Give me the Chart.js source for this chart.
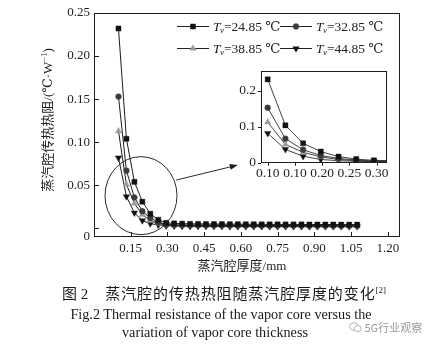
<!DOCTYPE html>
<html>
<head>
<meta charset="utf-8">
<script src="https://cdn.jsdelivr.net/npm/chart.js@4.4.1/dist/chart.umd.min.js"></script>
<style>
  html, body { margin: 0; padding: 0; background: #fff; }
  #wrap { position: relative; width: 446px; height: 346px; overflow: hidden; background: #fff; }
  #main { position: absolute; left: 0; top: 0; }
  #inset { position: absolute; left: 226px; top: 58px; }
  .line { position: absolute; white-space: nowrap; color: #1a1a1a; }
  .serif { font-family: 'Liberation Serif', 'Noto Sans CJK SC', serif; }
  .cjk { font-family: 'Noto Sans CJK SC', sans-serif; }
</style>
</head>
<body>
<div id="wrap">
  <canvas id="main" width="446" height="346"></canvas>
  <canvas id="inset" width="172" height="128"></canvas>

  <div class="line" style="left:62px; top:284px; font-size:15px; line-height:18px;">
    <span class="cjk">图</span><span class="serif">&nbsp;2</span><span class="cjk" style="margin-left:17px; letter-spacing:0.9px;">蒸汽腔的传热热阻随蒸汽腔厚度的变化</span><sup class="serif" style="font-size:9px; vertical-align:6px; line-height:0;">[2]</sup>
  </div>
  <div class="line serif" style="left:0; width:442px; text-align:center; top:306px; font-size:14.2px; line-height:16px;">Fig.2 Thermal resistance of the vapor core versus the</div>
  <div class="line serif" style="left:0; width:430px; text-align:center; top:324px; font-size:14.2px; line-height:16px;">variation of vapor core thickness</div>

  <div class="line cjk" style="left:349px; top:320px; font-size:11px; line-height:14px; color:#9a9a9a;">
    <svg width="13" height="11" viewBox="0 0 13 11" style="vertical-align:-1px;">
      <ellipse cx="5" cy="4.5" rx="4.2" ry="3.6" fill="none" stroke="#a8a8a8" stroke-width="0.9"/>
      <ellipse cx="8.6" cy="6.6" rx="3.6" ry="3" fill="#fff" stroke="#a8a8a8" stroke-width="0.9"/>
    </svg>&nbsp;5G行业观察
  </div>
</div>

<script>
// Vapor core thickness (mm)
const thickness = [0.1000, 0.1325, 0.1650, 0.1975, 0.2300, 0.2625, 0.2950, 0.3275, 0.3600, 0.3925,
                   0.4250, 0.4575, 0.4900, 0.5225, 0.5550, 0.5875, 0.6200, 0.6525, 0.6850, 0.7175,
                   0.7500, 0.7825, 0.8150, 0.8475, 0.8800, 0.9125, 0.9450, 0.9775, 1.0100, 1.0425, 1.0750];

// Thermal resistance of the vapor core (°C/W) at each vapor temperature
const r2485 = [0.232, 0.104, 0.054, 0.031, 0.017, 0.010, 0.0065, 0.0058, 0.0055, 0.0053,
               0.0052, 0.0051, 0.0050, 0.0050, 0.0049, 0.0049, 0.0048, 0.0048, 0.0047, 0.0047,
               0.0047, 0.0046, 0.0046, 0.0046, 0.0045, 0.0045, 0.0045, 0.0045, 0.0044, 0.0044, 0.0044];
const r3285 = [0.153, 0.067, 0.036, 0.020, 0.012, 0.0072, 0.0045, 0.0040, 0.0038, 0.0037,
               0.0036, 0.0036, 0.0035, 0.0035, 0.0035, 0.0034, 0.0034, 0.0034, 0.0034, 0.0033,
               0.0033, 0.0033, 0.0033, 0.0033, 0.0032, 0.0032, 0.0032, 0.0032, 0.0032, 0.0031, 0.0031];
const r3885 = [0.113, 0.051, 0.029, 0.016, 0.009, 0.0058, 0.0040, 0.0036, 0.0034, 0.0033,
               0.0032, 0.0032, 0.0031, 0.0031, 0.0031, 0.0030, 0.0030, 0.0030, 0.0030, 0.0030,
               0.0029, 0.0029, 0.0029, 0.0029, 0.0029, 0.0029, 0.0028, 0.0028, 0.0028, 0.0028, 0.0028];
const r4485 = [0.082, 0.037, 0.018, 0.009, 0.0055, 0.0040, 0.0030, 0.0027, 0.0025, 0.0024,
               0.0024, 0.0023, 0.0023, 0.0023, 0.0022, 0.0022, 0.0022, 0.0022, 0.0022, 0.0021,
               0.0021, 0.0021, 0.0021, 0.0021, 0.0021, 0.0020, 0.0020, 0.0020, 0.0020, 0.0020, 0.0020];

const seriesTemps = ['24.85', '32.85', '38.85', '44.85'];

// Tick values and labels
const xTicksMain = [0.15, 0.30, 0.45, 0.60, 0.75, 0.90, 1.05, 1.20];
const yTicksMain = [0, 0.05, 0.10, 0.15, 0.20, 0.25];
const yLabelsMain = ['0', '0.05', '0.10', '0.15', '0.20', '0.25'];
const xTicksInset = [0.10, 0.15, 0.20, 0.25, 0.30];
const xLabelsInset = ['0.10', '0.10', '0.20', '0.25', '0.30'];
const yTicksInset = [0, 0.1, 0.2];
const yLabelsInset = ['0', '0.1', '0.2'];

const SERIF = "'Liberation Serif', 'DejaVu Serif', 'Noto Sans CJK SC', serif";
const INK = '#1e1e1e';

const markerStyles = [
  { style: 'rect',     radius: 3.6, rotation: 0,   color: '#111111' },
  { style: 'circle',   radius: 2.9, rotation: 0,   color: '#3c3c3c' },
  { style: 'triangle', radius: 3.7, rotation: 0,   color: '#9c9c9c' },
  { style: 'triangle', radius: 3.7, rotation: 180, color: '#111111' }
];
const seriesValues = [r2485, r3285, r3885, r4485];

function buildDatasets(lineColor, lineWidth, scale) {
  return seriesValues.map((vals, i) => {
    const m = markerStyles[i];
    return {
      label: 'Tv=' + seriesTemps[i] + ' ℃',
      data: thickness.map((x, k) => ({ x: x, y: vals[k] })),
      borderColor: lineColor,
      borderWidth: lineWidth,
      pointStyle: m.style,
      pointRadius: m.radius * scale,
      pointRotation: m.rotation,
      pointBackgroundColor: m.color,
      pointBorderColor: m.color,
      pointBorderWidth: 0.4,
      pointHoverRadius: m.radius * scale,
      tension: 0,
      fill: false
    };
  });
}

const H = Chart.helpers;
function drawMarker(ctx, i, x, y) {
  const m = markerStyles[i];
  ctx.save();
  ctx.fillStyle = m.color;
  ctx.strokeStyle = m.color;
  ctx.lineWidth = 0.4;
  H.drawPoint(ctx, { pointStyle: m.style, radius: m.radius, rotation: m.rotation, borderWidth: 0.4 }, x, y);
  ctx.restore();
}

// Frame, inward ticks, zoom circle, arrow, legend and axis titles of the main plot
const mainDecor = {
  id: 'mainDecor',
  afterDraw(chart) {
    const ctx = chart.ctx;
    const a = chart.chartArea;
    const xs = chart.scales.x, ys = chart.scales.y;
    ctx.save();
    ctx.strokeStyle = INK;
    ctx.lineWidth = 1;
    ctx.strokeRect(Math.round(a.left) + 0.5, Math.round(a.top) + 0.5,
                   Math.round(a.right - a.left) - 1, Math.round(a.bottom - a.top) - 1);

    ctx.beginPath();
    xTicksMain.forEach(v => {
      const px = Math.round(xs.getPixelForValue(v)) + 0.5;
      ctx.moveTo(px, a.bottom - 1);
      ctx.lineTo(px, a.bottom - 5);
    });
    yTicksMain.forEach(v => {
      const py = Math.round(ys.getPixelForValue(v)) + 0.5;
      ctx.moveTo(a.left + 1, py);
      ctx.lineTo(a.left + 5, py);
    });
    ctx.stroke();

    // circle around the steep region
    const cx = xs.getPixelForValue(0.192), cy = ys.getPixelForValue(0.038);
    ctx.beginPath();
    ctx.strokeStyle = '#2a2a2a';
    ctx.lineWidth = 1;
    ctx.ellipse(cx, cy, 36, 39, 0, 0, Math.PI * 2);
    ctx.stroke();

    // arrow pointing to the enlarged view
    const x0 = xs.getPixelForValue(0.336), y0 = ys.getPixelForValue(0.0561);
    const x1 = xs.getPixelForValue(0.5875), y1 = ys.getPixelForValue(0.0735);
    const ang = Math.atan2(y1 - y0, x1 - x0);
    ctx.beginPath();
    ctx.moveTo(x0, y0);
    ctx.lineTo(x1 - 5 * Math.cos(ang), y1 - 5 * Math.sin(ang));
    ctx.stroke();
    ctx.beginPath();
    ctx.fillStyle = '#1e1e1e';
    ctx.moveTo(x1, y1);
    ctx.lineTo(x1 - 8 * Math.cos(ang) + 3 * Math.sin(ang), y1 - 8 * Math.sin(ang) - 3 * Math.cos(ang));
    ctx.lineTo(x1 - 8 * Math.cos(ang) - 3 * Math.sin(ang), y1 - 8 * Math.sin(ang) + 3 * Math.cos(ang));
    ctx.closePath();
    ctx.fill();

    // legend (two rows, two columns)
    const rows = [26, 48];
    const cols = [{ l0: 177, l1: 209, t: 213 }, { l0: 280, l1: 312, t: 316 }];
    for (let i = 0; i < 4; i++) {
      const r = rows[Math.floor(i / 2)], c = cols[i % 2];
      ctx.beginPath();
      ctx.strokeStyle = '#222';
      ctx.lineWidth = 1;
      ctx.moveTo(c.l0, r + 0.5);
      ctx.lineTo(c.l1, r + 0.5);
      ctx.stroke();
      drawMarker(ctx, i, (c.l0 + c.l1) / 2, r + 0.5);
      ctx.fillStyle = INK;
      ctx.textBaseline = 'middle';
      ctx.textAlign = 'left';
      let tx = c.t;
      ctx.font = 'italic 13.5px ' + SERIF;
      ctx.fillText('T', tx, r + 1);
      tx += ctx.measureText('T').width - 0.5;
      ctx.font = 'italic 9px ' + SERIF;
      ctx.fillText('v', tx, r + 5);
      tx += ctx.measureText('v').width;
      ctx.font = '13.5px ' + SERIF;
      ctx.fillText('=' + seriesTemps[i] + ' ℃', tx, r + 1);
    }

    // y axis title (rotated)
    ctx.save();
    ctx.translate(49, 120);
    ctx.rotate(-Math.PI / 2);
    ctx.fillStyle = INK;
    ctx.textBaseline = 'middle';
    const p1 = '蒸汽腔传热热阻/(℃·W', p2 = '−1', p3 = ')';
    ctx.font = '13px ' + SERIF;
    const w1 = ctx.measureText(p1).width;
    const w3 = ctx.measureText(p3).width;
    ctx.font = '8.5px ' + SERIF;
    const w2 = ctx.measureText(p2).width;
    let sx = -(w1 + w2 + w3) / 2;
    ctx.textAlign = 'left';
    ctx.font = '13px ' + SERIF;
    ctx.fillText(p1, sx, 0);
    ctx.font = '8.5px ' + SERIF;
    ctx.fillText(p2, sx + w1, -4);
    ctx.font = '13px ' + SERIF;
    ctx.fillText(p3, sx + w1 + w2, 0);
    ctx.restore();

    // x axis title
    ctx.fillStyle = INK;
    ctx.font = '13px ' + SERIF;
    ctx.textAlign = 'center';
    ctx.textBaseline = 'middle';
    ctx.fillText('蒸汽腔厚度/mm', 242, 267);
    ctx.restore();
  }
};

const mainChart = new Chart(document.getElementById('main'), {
  type: 'line',
  data: { datasets: buildDatasets('#1c1c1c', 1, 1) },
  plugins: [mainDecor],
  options: {
    responsive: false,
    devicePixelRatio: 1,
    animation: false,
    events: [],
    layout: { padding: { left: 0, top: 13, right: 46, bottom: 87 } },
    plugins: { legend: { display: false }, tooltip: { enabled: false } },
    scales: {
      x: {
        type: 'linear', min: 0, max: 1.25,
        afterBuildTicks: s => { s.ticks = xTicksMain.map(v => ({ value: v })); },
        afterFit: s => { s.height = 22; },
        grid: { display: false, drawTicks: false },
        border: { display: false },
        ticks: {
          padding: 4, color: INK, font: { family: SERIF, size: 13 },
          maxRotation: 0, autoSkip: false,
          callback: v => v.toFixed(2)
        }
      },
      y: {
        type: 'linear', min: -0.01, max: 0.25,
        afterBuildTicks: s => {
          s.ticks = yTicksMain.map(v => ({ value: v === 0 ? -0.01 : v }));
        },
        afterFit: s => { s.width = 94; },
        grid: { display: false, drawTicks: false },
        border: { display: false },
        ticks: {
          padding: 4, color: INK, font: { family: SERIF, size: 13 }, autoSkip: false,
          callback: (v, idx) => yLabelsMain[idx]
        }
      }
    }
  }
});

// Frame and ticks of the enlarged view
const insetDecor = {
  id: 'insetDecor',
  afterDraw(chart) {
    const ctx = chart.ctx;
    const a = chart.chartArea;
    const xs = chart.scales.x, ys = chart.scales.y;
    ctx.save();
    ctx.strokeStyle = INK;
    ctx.lineWidth = 1;
    ctx.strokeRect(Math.round(a.left) + 0.5, Math.round(a.top) + 0.5,
                   Math.round(a.right - a.left) - 1, Math.round(a.bottom - a.top) - 1);
    ctx.beginPath();
    xTicksInset.forEach(v => {
      const px = Math.round(xs.getPixelForValue(v)) + 0.5;
      ctx.moveTo(px, a.bottom);
      ctx.lineTo(px, a.bottom + 3);
    });
    yTicksInset.forEach(v => {
      const py = Math.round(ys.getPixelForValue(v)) + 0.5;
      ctx.moveTo(a.left, py);
      ctx.lineTo(a.left - 3, py);
    });
    ctx.stroke();
    ctx.restore();
  }
};

const insetChart = new Chart(document.getElementById('inset'), {
  type: 'line',
  data: { datasets: buildDatasets('#2e2e2e', 0.9, 1) },
  plugins: [insetDecor],
  options: {
    responsive: false,
    devicePixelRatio: 1,
    animation: false,
    events: [],
    layout: { padding: { left: 0, top: 9, right: 11, bottom: 0 } },
    plugins: { legend: { display: false }, tooltip: { enabled: false } },
    scales: {
      x: {
        type: 'linear', min: 0.0877, max: 0.319,
        afterBuildTicks: s => { s.ticks = xTicksInset.map(v => ({ value: v })); },
        afterFit: s => { s.height = 23.3; },
        grid: { display: false, drawTicks: false },
        border: { display: false },
        ticks: {
          padding: 3, color: INK, font: { family: SERIF, size: 13.5 },
          maxRotation: 0, autoSkip: false,
          callback: (v, idx) => xLabelsInset[idx]
        }
      },
      y: {
        type: 'linear', min: 0, max: 0.255,
        afterBuildTicks: s => { s.ticks = yTicksInset.map(v => ({ value: v })); },
        afterFit: s => { s.width = 35; },
        grid: { display: false, drawTicks: false },
        border: { display: false },
        ticks: {
          padding: 5, color: INK, font: { family: SERIF, size: 13.5 }, autoSkip: false,
          callback: (v, idx) => yLabelsInset[idx]
        }
      }
    }
  }
});
</script>
</body>
</html>
